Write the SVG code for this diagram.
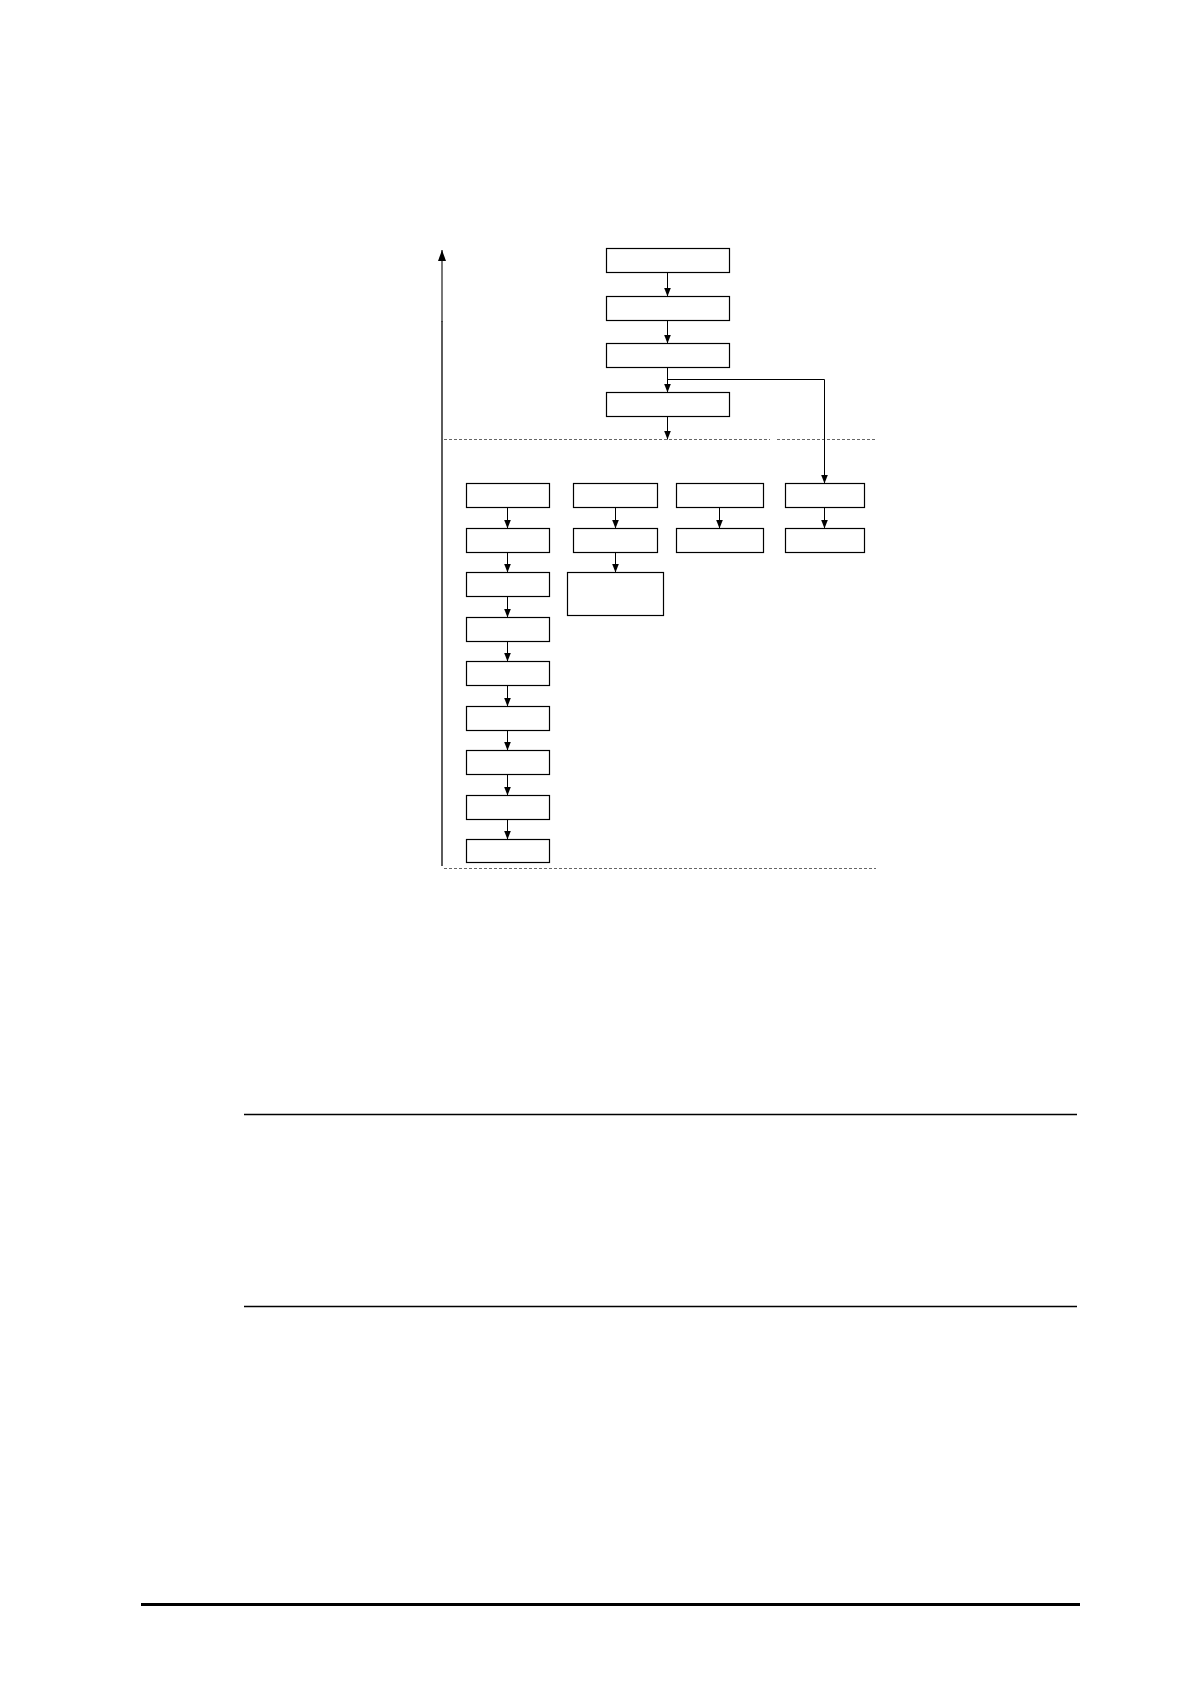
<svg xmlns="http://www.w3.org/2000/svg" width="1190" height="1684" viewBox="0 0 1190 1684">
<style>
.box{fill:#fff;stroke:#000;stroke-width:1.2}
.con{fill:none;stroke:#000;stroke-width:1}
.dash{fill:none;stroke:#666;stroke-width:1;stroke-dasharray:3 2}
.rule{stroke:#000;stroke-width:1.3}
</style>
<defs>
<marker id="ah" viewBox="0 0 9 7" refX="9" refY="3.5" markerWidth="9" markerHeight="7" markerUnits="userSpaceOnUse" orient="auto">
<path d="M0,0 L9,3.5 L0,7 Z" fill="#000"/>
</marker>
<marker id="big" viewBox="0 0 11 8" refX="11" refY="4" markerWidth="11" markerHeight="8" markerUnits="userSpaceOnUse" orient="auto">
<path d="M0,0 L11,4 L0,8 Z" fill="#000"/>
</marker>
</defs>
<rect width="1190" height="1684" fill="#fff"/>
<g id="guides">
<line class="dash" x1="444" y1="439.5" x2="770" y2="439.5"/>
<line class="dash" x1="777" y1="439.5" x2="876" y2="439.5"/>
<line class="dash" x1="444" y1="868.5" x2="876" y2="868.5"/>
<line x1="442" y1="322" x2="442" y2="250" stroke="#555" stroke-width="1.6" marker-end="url(#big)"/>
<line x1="442" y1="866" x2="442" y2="321" stroke="#333" stroke-width="1.6"/>
</g>
<g id="top1"><rect class="box" x="606.5" y="248.5" width="123" height="24"/></g>
<g id="top2"><rect class="box" x="606.5" y="296.5" width="123" height="24"/></g>
<g id="top3"><rect class="box" x="606.5" y="343.5" width="123" height="24"/></g>
<g id="top4"><rect class="box" x="606.5" y="392.5" width="123" height="24"/></g>
<g id="c1r1"><rect class="box" x="466.5" y="483.5" width="83" height="24"/></g>
<g id="c1r2"><rect class="box" x="466.5" y="528.5" width="83" height="24"/></g>
<g id="c1r3"><rect class="box" x="466.5" y="572.5" width="83" height="24"/></g>
<g id="c1r4"><rect class="box" x="466.5" y="617.5" width="83" height="24"/></g>
<g id="c1r5"><rect class="box" x="466.5" y="661.5" width="83" height="24"/></g>
<g id="c1r6"><rect class="box" x="466.5" y="706.5" width="83" height="24"/></g>
<g id="c1r7"><rect class="box" x="466.5" y="750.5" width="83" height="24"/></g>
<g id="c1r8"><rect class="box" x="466.5" y="795.5" width="83" height="24"/></g>
<g id="c1r9"><rect class="box" x="466.5" y="839.5" width="83" height="23"/></g>
<g id="c2r1"><rect class="box" x="573.5" y="483.5" width="84" height="24"/></g>
<g id="c2r2"><rect class="box" x="573.5" y="528.5" width="84" height="24"/></g>
<g id="c2r3"><rect class="box" x="567.5" y="572.5" width="96" height="43"/></g>
<g id="c3r1"><rect class="box" x="676.5" y="483.5" width="87" height="24"/></g>
<g id="c3r2"><rect class="box" x="676.5" y="528.5" width="87" height="24"/></g>
<g id="c4r1"><rect class="box" x="785.5" y="483.5" width="79" height="24"/></g>
<g id="c4r2"><rect class="box" x="785.5" y="528.5" width="79" height="24"/></g>
<g id="connectors">
<line class="con" x1="667.5" y1="272.5" x2="667.5" y2="296.5" marker-end="url(#ah)"/>
<line class="con" x1="667.5" y1="320.5" x2="667.5" y2="343.5" marker-end="url(#ah)"/>
<line class="con" x1="667.5" y1="367.5" x2="667.5" y2="392.5" marker-end="url(#ah)"/>
<line class="con" x1="667.5" y1="416.5" x2="667.5" y2="439.5" marker-end="url(#ah)"/>
<polyline class="con" points="667.5,379.5 824.5,379.5 824.5,483.5" marker-end="url(#ah)"/>
<line class="con" x1="507.5" y1="507.5" x2="507.5" y2="528.5" marker-end="url(#ah)"/>
<line class="con" x1="507.5" y1="552.5" x2="507.5" y2="572.5" marker-end="url(#ah)"/>
<line class="con" x1="507.5" y1="596.5" x2="507.5" y2="617.5" marker-end="url(#ah)"/>
<line class="con" x1="507.5" y1="641.5" x2="507.5" y2="661.5" marker-end="url(#ah)"/>
<line class="con" x1="507.5" y1="685.5" x2="507.5" y2="706.5" marker-end="url(#ah)"/>
<line class="con" x1="507.5" y1="730.5" x2="507.5" y2="750.5" marker-end="url(#ah)"/>
<line class="con" x1="507.5" y1="774.5" x2="507.5" y2="795.5" marker-end="url(#ah)"/>
<line class="con" x1="507.5" y1="819.5" x2="507.5" y2="839.5" marker-end="url(#ah)"/>
<line class="con" x1="615.5" y1="507.5" x2="615.5" y2="528.5" marker-end="url(#ah)"/>
<line class="con" x1="615.5" y1="552.5" x2="615.5" y2="572.5" marker-end="url(#ah)"/>
<line class="con" x1="719.5" y1="507.5" x2="719.5" y2="528.5" marker-end="url(#ah)"/>
<line class="con" x1="824.5" y1="507.5" x2="824.5" y2="528.5" marker-end="url(#ah)"/>
</g>
<g id="rules">
<line class="rule" x1="244" y1="1114.5" x2="1077" y2="1114.5"/>
<line class="rule" x1="244" y1="1306.5" x2="1077" y2="1306.5"/>
<line x1="141" y1="1604.5" x2="1080" y2="1604.5" stroke="#000" stroke-width="3"/>
</g>
</svg>
